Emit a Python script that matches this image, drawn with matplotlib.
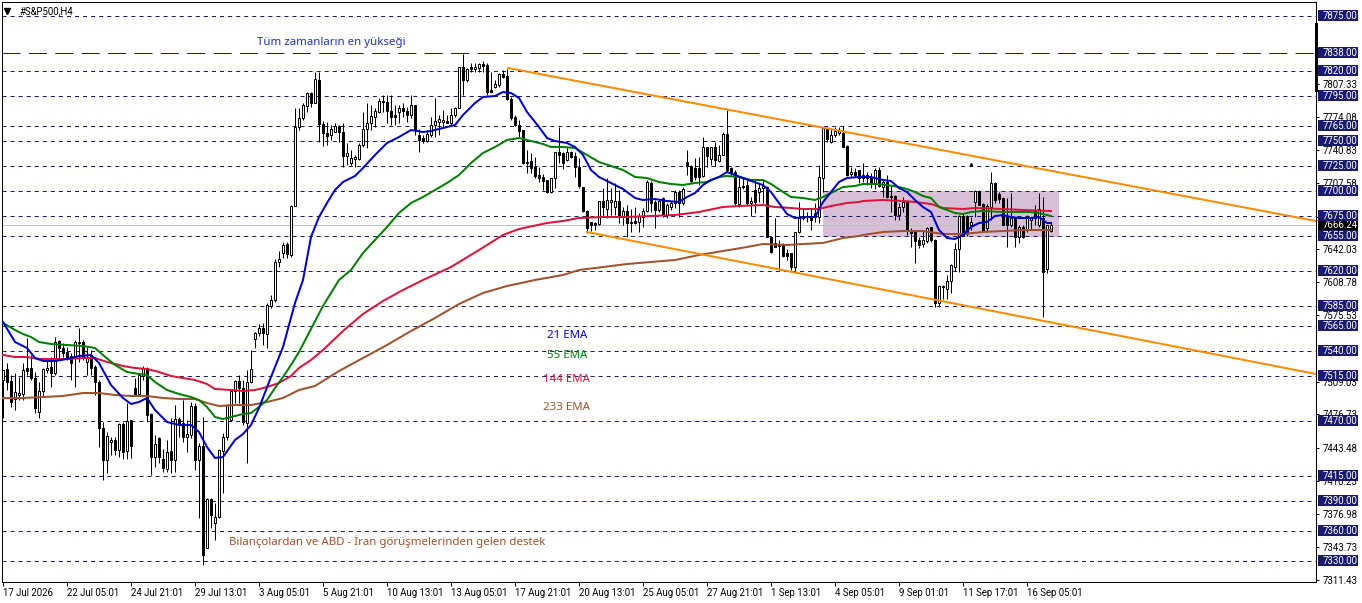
import matplotlib
matplotlib.use("Agg")
import matplotlib.pyplot as plt
from matplotlib.patches import Rectangle

plt.rcParams['font.family'] = ['Roboto', 'Noto Sans', 'DejaVu Sans']
plt.rcParams['lines.scale_dashes'] = False

opens = [7511,7522,7510,7492,7496,7497,7523,7523,7513,7479,
         7500,7521,7524,7518,7550,7543,7539,7535,7534,7548,
         7549,7529,7536,7524,7509,7463,7431,7449,7451,7441,
         7467,7440,7471,7503,7497,7515,7523,7477,7434,7453,
         7432,7422,7440,7431,7472,7468,7454,7456,7485,7431,
         7445,7343,7392,7368,7374,7440,7454,7471,7500,7510,
         7503,7468,7509,7552,7558,7563,7557,7585,7591,7629,
         7638,7647,7636,7685,7764,7773,7785,7798,7788,7811,
         7767,7758,7756,7759,7765,7759,7735,7728,7732,7732,
         7746,7762,7768,7774,7779,7790,7789,7780,7776,7779,
         7783,7780,7776,7786,7756,7753,7750,7756,7766,7769,
         7769,7770,7768,7776,7783,7824,7811,7824,7822,7823,
         7827,7826,7801,7804,7806,7817,7815,7792,7774,7766,
         7761,7729,7730,7724,7716,7714,7711,7699,7713,7739,
         7738,7731,7739,7735,7724,7704,7680,7669,7668,7667,
         7690,7682,7689,7684,7690,7675,7680,7668,7670,7669,
         7674,7680,7708,7689,7681,7693,7676,7684,7688,7699,
         7688,7729,7725,7723,7723,7715,7744,7732,7744,7730,
         7736,7757,7723,7719,7687,7704,7706,7688,7701,7699,
         7703,7704,7654,7648,7646,7646,7638,7638,7624,7659,
         7675,7675,7674,7678,7674,7713,7763,7749,7756,7758,
         7758,7745,7717,7719,7721,7716,7713,7713,7707,7721,
         7704,7709,7695,7695,7676,7684,7689,7661,7659,7651,
         7647,7650,7664,7651,7588,7605,7602,7610,7624,7642,
         7675,7675,7666,7689,7700,7687,7663,7684,7708,7697,
         7693,7674,7666,7673,7654,7664,7661,7671,7681,7666,
         7673,7622,7660]
highs = [7521,7528,7516,7518,7514,7528,7553,7536,7519,7509,
         7523,7531,7534,7554,7551,7548,7544,7538,7551,7563,
         7551,7544,7541,7526,7511,7469,7459,7454,7454,7468,
         7469,7488,7471,7513,7516,7525,7524,7478,7456,7454,
         7442,7451,7473,7486,7474,7491,7471,7489,7488,7448,
         7474,7393,7393,7388,7441,7458,7487,7501,7511,7516,
         7511,7521,7541,7559,7567,7568,7588,7596,7632,7640,
         7649,7649,7686,7783,7783,7788,7799,7799,7819,7819,
         7770,7769,7766,7768,7766,7768,7748,7741,7736,7748,
         7779,7788,7786,7783,7793,7796,7796,7796,7786,7786,
         7788,7784,7796,7786,7762,7756,7761,7774,7793,7776,
         7781,7776,7783,7784,7824,7837,7823,7828,7828,7828,
         7830,7828,7819,7811,7818,7821,7822,7794,7776,7771,
         7761,7741,7738,7734,7724,7717,7711,7713,7739,7764,
         7739,7744,7740,7739,7733,7704,7681,7669,7669,7690,
         7703,7713,7703,7708,7701,7684,7686,7682,7684,7678,
         7683,7711,7710,7691,7691,7694,7688,7690,7701,7701,
         7704,7741,7726,7733,7734,7754,7744,7744,7749,7746,
         7759,7781,7724,7721,7714,7714,7713,7694,7711,7708,
         7711,7705,7654,7673,7651,7648,7642,7638,7659,7689,
         7683,7679,7683,7688,7726,7764,7764,7763,7764,7764,
         7765,7746,7724,7723,7721,7728,7719,7718,7723,7724,
         7711,7716,7706,7696,7688,7694,7691,7663,7661,7654,
         7660,7664,7664,7652,7606,7606,7616,7627,7648,7676,
         7678,7676,7674,7701,7701,7688,7687,7719,7709,7699,
         7694,7693,7698,7674,7666,7666,7676,7674,7686,7698,
         7694,7666,7669]
lows = [7473,7501,7484,7481,7491,7491,7516,7511,7478,7473,
        7494,7518,7504,7516,7533,7534,7531,7511,7504,7529,
        7531,7516,7516,7496,7444,7411,7418,7436,7436,7434,
        7432,7432,7433,7496,7496,7511,7469,7416,7424,7428,
        7419,7419,7418,7419,7454,7449,7439,7453,7421,7373,
        7326,7343,7363,7351,7373,7398,7451,7470,7488,7488,
        7466,7428,7508,7543,7555,7546,7543,7583,7589,7624,
        7633,7633,7634,7685,7761,7771,7779,7784,7788,7749,
        7745,7746,7751,7759,7749,7724,7726,7726,7724,7731,
        7744,7743,7761,7764,7778,7779,7768,7766,7766,7768,
        7774,7769,7773,7756,7739,7748,7749,7754,7754,7756,
        7763,7768,7766,7774,7783,7796,7809,7819,7819,7819,
        7819,7796,7799,7803,7804,7813,7791,7771,7765,7754,
        7727,7718,7718,7713,7709,7701,7698,7698,7703,7728,
        7722,7730,7733,7714,7703,7679,7658,7660,7661,7666,
        7675,7673,7676,7676,7668,7666,7654,7659,7667,7659,
        7664,7679,7679,7663,7679,7674,7673,7681,7683,7674,
        7686,7716,7708,7711,7706,7714,7724,7726,7725,7729,
        7736,7719,7716,7686,7684,7702,7686,7675,7678,7689,
        7688,7654,7638,7644,7621,7634,7631,7621,7619,7658,
        7671,7669,7661,7669,7668,7699,7749,7748,7754,7756,
        7744,7715,7713,7714,7708,7709,7706,7703,7702,7704,
        7694,7693,7679,7671,7671,7679,7656,7644,7628,7643,
        7644,7648,7649,7584,7584,7592,7592,7598,7620,7619,
        7656,7655,7661,7674,7686,7659,7659,7671,7688,7688,
        7666,7644,7664,7644,7648,7653,7659,7661,7666,7664,
        7574,7618,7659]
closes = [7521,7509,7489,7499,7498,7521,7520,7513,7483,7500,
          7522,7523,7518,7549,7543,7538,7534,7528,7549,7549,
          7534,7534,7523,7509,7463,7431,7455,7451,7441,7467,
          7439,7470,7445,7497,7516,7523,7476,7434,7447,7434,
          7423,7439,7431,7472,7467,7454,7457,7485,7431,7445,
          7336,7392,7376,7374,7441,7454,7486,7500,7510,7503,
          7469,7509,7522,7558,7563,7558,7586,7591,7629,7632,
          7646,7637,7685,7764,7773,7786,7798,7788,7812,7767,
          7758,7755,7762,7765,7759,7735,7738,7733,7734,7746,
          7762,7768,7775,7780,7790,7789,7780,7774,7774,7783,
          7780,7776,7786,7761,7751,7750,7757,7766,7770,7772,
          7771,7768,7776,7783,7824,7811,7822,7822,7824,7827,
          7825,7799,7799,7807,7817,7814,7792,7773,7766,7760,
          7728,7728,7723,7715,7713,7710,7699,7713,7739,7736,
          7728,7739,7734,7724,7705,7680,7663,7666,7666,7690,
          7684,7691,7691,7690,7675,7680,7668,7669,7668,7675,
          7680,7709,7688,7681,7690,7676,7686,7688,7699,7688,
          7702,7725,7710,7714,7714,7744,7735,7744,7731,7736,
          7757,7721,7719,7688,7704,7705,7688,7690,7689,7703,
          7705,7654,7639,7644,7645,7635,7635,7624,7659,7673,
          7673,7674,7671,7674,7714,7763,7752,7756,7760,7760,
          7744,7716,7719,7716,7713,7713,7716,7707,7721,7705,
          7709,7694,7694,7676,7684,7689,7660,7658,7650,7646,
          7651,7663,7651,7588,7605,7604,7610,7626,7642,7675,
          7656,7657,7669,7700,7686,7659,7685,7708,7691,7692,
          7666,7666,7673,7654,7664,7654,7673,7673,7673,7682,
          7619,7666,7666]

ema21_x = [0,3,6,8,10,13,16,19,22,24,27,30,32,34,36,38,41,44,47,49,51,53,55,58,60,62,64,67,70,73,
           75,77,79,81,83,85,88,90,93,96,99,102,105,107,110,113,115,118,120,123,125,127,129,131,134,136,138,141,
           143,145,147,149,152,155,158,160,163,166,169,171,173,175,177,179,181,183,185,187,190,192,194,196,198,201,203,205,207,209,211,
           214,217,220,222,224,226,228,230,232,234,236,238,240,242,244,246,248,250,252,254,257,259,261,262]
ema21_y = [7569,7549,7543,7533,7530,7530,7532,7535,7536,7528,7506,7493,7487,7489,7493,7481,7469,7466,7466,7459,7444,7433,7434,7451,7457,7466,7483,7514,7544,7588,
           7611,7654,7674,7688,7701,7709,7715,7723,7736,7748,7754,7761,7759,7760,7763,7766,7776,7788,7794,7795,7799,7798,7793,7779,7764,7753,7750,7748,
           7744,7736,7721,7714,7708,7702,7693,7691,7692,7690,7689,7694,7698,7706,7711,7714,7719,7716,7713,7710,7706,7699,7688,7677,7673,7674,7674,7689,7699,7709,7713,
           7714,7714,7711,7710,7703,7699,7691,7684,7679,7661,7653,7652,7656,7664,7668,7669,7675,7676,7674,7673,7673,7674,7668,7668]

ema55_x = [0,3,5,7,9,12,16,20,23,25,28,31,34,36,38,41,44,47,49,51,53,55,57,60,62,64,66,68,70,72,74,
           77,80,84,87,90,93,96,99,102,105,108,111,114,117,120,123,126,129,132,135,137,140,143,
           146,149,152,155,158,161,164,167,170,173,176,179,181,184,187,190,192,195,197,200,203,205,207,210,213,
           215,218,221,224,226,228,230,232,234,236,238,240,242,245,250,254,257,260,262]
ema55_y = [7568,7561,7557,7554,7549,7547,7546,7545,7543,7536,7526,7519,7517,7516,7509,7501,7497,7494,7491,7484,7474,7472,7474,7477,7478,7484,7491,7503,7514,7526,7539,
           7562,7585,7611,7621,7638,7651,7664,7678,7688,7694,7701,7708,7716,7728,7738,7744,7751,7753,7750,7747,7744,7744,7743,
           7736,7729,7725,7721,7714,7713,7709,7707,7706,7708,7709,7714,7715,7714,7711,7711,7707,7699,7694,7693,7691,7694,7698,7704,7705,
           7707,7707,7706,7704,7702,7699,7695,7693,7684,7681,7678,7677,7679,7680,7679,7679,7679,7677,7675]

ema144_x = [0,3,6,9,13,16,20,23,26,30,33,36,39,42,45,48,51,53,57,60,63,66,69,72,74,
            77,80,85,90,95,100,105,112,119,125,129,136,140,144,150,156,162,168,174,180,184,190,193,197,200,204,207,211,214,
            215,220,225,228,232,235,240,243,250,255,262]
ema144_y = [7536,7534,7534,7532,7532,7532,7533,7533,7529,7525,7523,7522,7519,7515,7513,7511,7507,7502,7501,7500,7501,7504,7508,7515,7523,
            7531,7541,7560,7577,7590,7601,7611,7624,7641,7656,7662,7668,7670,7673,7674,7674,7675,7676,7679,7684,7685,7686,7684,7683,7682,7682,7685,7688,7689,
            7690,7691,7690,7689,7687,7683,7682,7683,7682,7681,7680]

ema233_x = [0,5,10,15,20,24,28,32,36,40,44,48,51,54,58,62,66,70,74,78,84,90,96,102,108,114,120,126,133,
            140,144,150,156,162,168,174,180,186,190,196,200,205,210,214,215,220,225,230,235,240,245,250,255,262]
ema233_y = [7493,7493,7494,7495,7498,7498,7496,7495,7495,7493,7492,7492,7488,7485,7486,7486,7489,7493,7501,7505,7520,7533,7546,7560,7573,7587,7598,7605,7611,
            7616,7621,7624,7627,7629,7631,7636,7640,7644,7647,7646,7647,7648,7653,7655,7656,7659,7660,7660,7657,7657,7659,7660,7661,7661]

upper_x = [126.25, 328.25]
upper_y = [7823, 7670]
lower_x = [146, 328.25]
lower_y = [7659, 7517]

levels = [7875,7838,7820,7795,7765,7750,7725,7700,7675,7655,7620,7585,7565,7540,7515,7470,7415,7390,7360,7330]
axis_ticks = [7807.33,7774.08,7740.83,7707.58,7674.33,7642.03,7608.78,7575.53,7509.03,7476.73,7443.48,7410.23,7376.98,7343.73,7311.43]
current = 7666.24
date_pos = list(range(0, 263, 16))
date_labels = ['17 Jul 2026','22 Jul 05:01','24 Jul 21:01','29 Jul 13:01','3 Aug 05:01','5 Aug 21:01',
               '10 Aug 13:01','13 Aug 05:01','17 Aug 21:01','20 Aug 13:01','25 Aug 05:01','27 Aug 21:01',
               '1 Sep 13:01','4 Sep 05:01','9 Sep 01:01','11 Sep 17:01','16 Sep 05:01']

W, H = 1362, 603
fig = plt.figure(figsize=(W / 100, H / 100), dpi=100)
ax = fig.add_axes([2 / W, 1 - 582 / H, 1314 / W, 580 / H])
ax.set_xlim(-0.25, 328.25)
ax.set_ylim(7309, 7889)

# shaded range box
ax.add_patch(Rectangle((205, 7654), 59, 46, fc='#D8BFD8', ec='none', zorder=1))

# level lines
navy = '#191970'
px = 0.72
for lv in levels:
    style = (0, (13, 6)) if lv == 7838 else (0, (2.9, 2.9))
    ax.axhline(lv, color=navy, lw=px, ls=style, zorder=2)
ax.axhline(current, color='#C0C0C0', lw=px, zorder=2)

# candles
for i in range(len(opens)):
    o, h, l, c = opens[i], highs[i], lows[i], closes[i]
    ax.plot([i, i], [l, h], color='black', lw=px, zorder=3, solid_capstyle='butt')
    up = c >= o
    ax.bar(i, abs(c - o), bottom=min(o, c), width=0.5, fc='white' if up else 'black',
           ec='black', lw=px, zorder=4)
ax.plot([242], [7727], marker='^', ms=1.5, color='black', zorder=4)

# moving averages
ax.plot(ema233_x, ema233_y, color='#A0522D', lw=1.45, zorder=5)
ax.plot(ema144_x, ema144_y, color='#DC143C', lw=1.45, zorder=6)
ax.plot(ema55_x, ema55_y, color='#008000', lw=1.45, zorder=7)
ax.plot(ema21_x, ema21_y, color='#0000CD', lw=1.45, zorder=8)

# channel
ax.plot(upper_x, upper_y, color='#FF8C00', lw=1.45, zorder=9)
ax.plot(lower_x, lower_y, color='#FF8C00', lw=1.45, zorder=9)

for side in ['top', 'left', 'right', 'bottom']:
    ax.spines[side].set_linewidth(px)

label_fs = 6.9
ax.yaxis.tick_right()
ax.set_yticks(axis_ticks)
ax.set_yticklabels([f'{t:.2f}' for t in axis_ticks], fontsize=label_fs)
ax.tick_params(axis='y', length=2.5, width=px, pad=2.5)
ax.set_xticks(date_pos)
ax.set_xticklabels(date_labels, fontsize=label_fs, ha='left')
ax.tick_params(axis='x', length=3, width=px, pad=1)

# price labels on the right
trans = ax.get_yaxis_transform()
for lv, box, zo in [(current, 'black', 16)] + [(lv, navy, 18) for lv in levels]:
    ax.add_patch(Rectangle((1316 / 1314, lv - 5), 40 / 1314, 11, transform=trans, fc=box, ec='none',
                           clip_on=False, zorder=zo))
    ax.text(1321 / 1314, lv, f'{lv:.2f}', transform=trans, fontsize=label_fs, color='white', va='center', ha='left',
            clip_on=False, zorder=zo + 1)
fig.add_artist(Rectangle((1315 / W, 1 - 92 / H), 3 / W, 69 / H, transform=fig.transFigure, fc='black', ec='none', zorder=15))

# notes on the chart
note = 8.25
note_font = ['Noto Sans', 'DejaVu Sans']
ax.text(63.5, 7849, 'Tüm zamanların en yükseği', color='#2233BB', fontsize=note, va='center', family=note_font)
ax.text(136, 7555, '21 EMA', color='#0000CD', fontsize=note, va='center', family=note_font)
ax.text(136, 7535, '55 EMA', color='#008000', fontsize=note, va='center', family=note_font)
ax.text(135, 7511, '144 EMA', color='#DC143C', fontsize=note, va='center', family=note_font)
ax.text(135, 7483, '233 EMA', color='#A0522D', fontsize=note, va='center', family=note_font)
ax.text(56.5, 7349, 'Bilançolardan ve ABD - İran görüşmelerinden gelen destek', color='#A0522D', fontsize=note, va='center', family=note_font)
ax.plot([1.0], [7880.5], marker='v', ms=4, color='black', clip_on=False, zorder=12)
ax.text(4, 7880, '#S&P500,H4', fontsize=label_fs, va='center', color='black')

fig.savefig('out.png', dpi=100)
